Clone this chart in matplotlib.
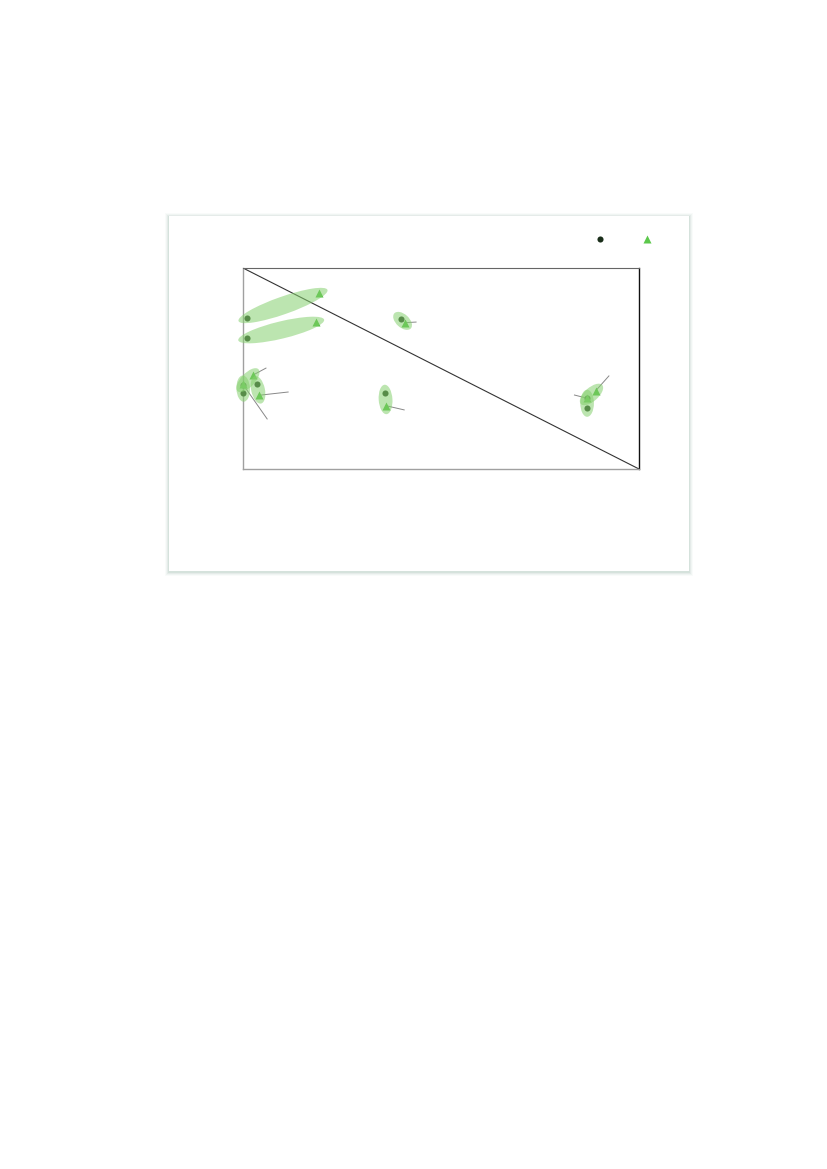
import matplotlib
matplotlib.use("Agg")
from matplotlib import pyplot as plt
from matplotlib.patches import Ellipse, Rectangle
from matplotlib.lines import Line2D
from matplotlib.transforms import ScaledTranslation
import numpy as np

# paired positions (circle = first measure, triangle = second measure)
circ_x = [0.9, 0.9, 39.8, 35.9, 0.1, 0.1, 3.5, 86.9, 86.9]
circ_y = [75.0, 65.0, 74.6, 37.7, 41.8, 37.7, 42.1, 35.2, 30.2]
tri_x = [19.3, 18.4, 40.8, 36.1, 2.4, 0.0, 4.1, 89.1, 86.9]
tri_y = [87.7, 73.3, 72.8, 31.5, 46.6, 42.3, 36.7, 39.0, 35.2]

# leader lines (start, end)
lead_x0 = [40.8, 36.1, 2.4, 4.1, 0.1, 89.1, 86.9]
lead_y0 = [72.8, 31.5, 46.6, 36.7, 41.8, 39.0, 35.2]
lead_x1 = [43.7, 40.7, 5.8, 11.4, 6.1, 92.4, 83.7]
lead_y1 = [73.1, 29.4, 50.2, 38.3, 24.9, 46.3, 36.8]

DPI = 100
fig = plt.figure(figsize=(8.27, 11.69), dpi=DPI)
W, H = 827, 1169

# card with soft shadow
cx0, cy0, cx1, cy1 = 169, 216, 689, 571
for i, a in enumerate([0.12, 0.09, 0.06, 0.04]):
    d = i + 1
    fig.add_artist(Rectangle(((cx0 - d) / W, 1 - (cy1 + d + 1) / H),
                             (cx1 - cx0 + 2 * d) / W, (cy1 - cy0 + 2 * d) / H,
                             transform=fig.transFigure, facecolor="#6f9a8a",
                             edgecolor="none", alpha=a, zorder=-2))
fig.add_artist(Rectangle((cx0 / W, 1 - cy1 / H), (cx1 - cx0) / W, (cy1 - cy0) / H,
                         transform=fig.transFigure, facecolor="white",
                         edgecolor="none", zorder=-1))

ax = fig.add_axes([243 / W, 1 - 469 / H, 396 / W, 201 / H])
ax.set_zorder(1)
ax.set_xlim(0, 100)
ax.set_ylim(0, 100)
ax.set_xticks([])
ax.set_yticks([])
ax.patch.set_alpha(0)
for s in ["left", "bottom"]:
    ax.spines[s].set_color("#a0a0a0")
    ax.spines[s].set_linewidth(1.0)
ax.spines["top"].set_color("#666666")
ax.spines["right"].set_color("#111111")
ax.spines["right"].set_linewidth(1.0)

ax.plot([0, 100], [100, 0], color="#333333", lw=0.8, zorder=2)

ax.plot(circ_x, circ_y, "o", color="#1f3a1c", ms=4.4, mec="none", zorder=3, clip_on=False)
ax.plot(tri_x, tri_y, "^", color="#4fbf3f", ms=5.8, mec="none", zorder=3, clip_on=False)

for x0, y0, x1, y1 in zip(lead_x0, lead_y0, lead_x1, lead_y1):
    ax.plot([x0, x1], [y0, y1], color="#888888", lw=0.7, zorder=2, clip_on=False)

# ellipses around each pair, sized in pixels
fig.canvas.draw()
for a, b, c, d in zip(circ_x, circ_y, tri_x, tri_y):
    p = ax.transData.transform([[a, b], [c, d]])
    dx, dy = p[1] - p[0]
    dist = np.hypot(dx, dy)
    ang = np.degrees(np.arctan2(dy, dx))
    mx, my = (a + c) / 2, (b + d) / 2
    tr = fig.dpi_scale_trans + ScaledTranslation(mx, my, ax.transData)
    e = Ellipse((0, 0), (dist + 17) / DPI, (13 + 0.06 * dist) / DPI, angle=ang,
                transform=tr, facecolor="#86d06f", edgecolor="none", alpha=0.55,
                zorder=4, clip_on=False)
    ax.add_patch(e)

# legend markers (no labels)
fig.add_artist(Line2D([600.3 / W], [1 - 239.3 / H], marker="o", color="#1a2e1a",
                      ms=4.4, mec="none", transform=fig.transFigure))
fig.add_artist(Line2D([646.7 / W], [1 - 239.3 / H], marker="^", color="#5cc84c",
                      ms=5.8, mec="none", transform=fig.transFigure))

fig.savefig("out.png", dpi=DPI)
